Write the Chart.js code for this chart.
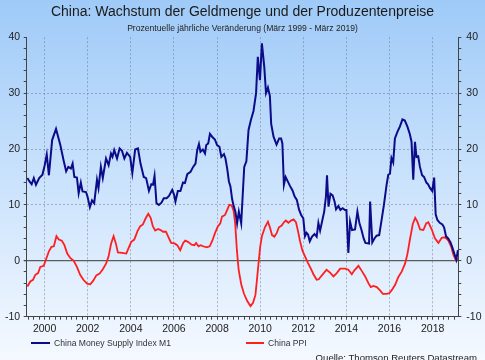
<!DOCTYPE html>
<html>
<head>
<meta charset="utf-8">
<script src="https://cdn.jsdelivr.net/npm/chart.js@4"></script>
<style>
  body { margin: 0; }
  #wrap {
    position: relative; width: 485px; height: 360px; overflow: hidden;
    background: linear-gradient(to bottom, #9fcaf8 0%, #c6e0fc 45%, #f5f9ff 100%);
    font-family: 'Liberation Sans', Arial, sans-serif; color: #333;
  }
  #chart { position: absolute; left: 0; top: 0; }
  .lg-line { position: absolute; height: 2px; top: 342px; }
  .lg-text { position: absolute; top: 338px; font-size: 8.6px; line-height: 10px; white-space: nowrap; }
  #source { position: absolute; right: 8px; top: 352px; font-size: 9.6px; line-height: 11px; white-space: nowrap; color: #222; }
</style>
</head>
<body>
<div id="wrap">
  <canvas id="chart" width="485" height="360"></canvas>
  <div class="lg-line" style="left:31px;width:19px;background:#0c0c8a"></div>
  <div class="lg-text" style="left:54px">China Money Supply Index M1</div>
  <div class="lg-line" style="left:246px;width:18px;background:#ff1f1f"></div>
  <div class="lg-text" style="left:268px">China PPI</div>
  <div id="source">Quelle: Thomson Reuters Datastream</div>
</div>
<script>
const m1Years = [1999.2, 1999.3, 1999.4, 1999.5, 1999.6, 1999.75, 1999.9, 2000.0, 2000.1, 2000.2, 2000.35, 2000.53, 2000.73, 2000.88,
  2001.0, 2001.1, 2001.22, 2001.3, 2001.38, 2001.5, 2001.58, 2001.68, 2001.76, 2001.92, 2001.99,
  2002.1, 2002.2, 2002.3, 2002.43, 2002.5, 2002.61, 2002.7, 2002.85, 2002.97,
  2003.08, 2003.15, 2003.23, 2003.36, 2003.48, 2003.59, 2003.7, 2003.82, 2003.97,
  2004.07, 2004.2, 2004.33, 2004.45, 2004.6, 2004.71, 2004.84, 2004.95,
  2005.03, 2005.1, 2005.19, 2005.3, 2005.42, 2005.53, 2005.66, 2005.77, 2005.92,
  2006.0, 2006.07, 2006.18, 2006.3, 2006.42, 2006.51, 2006.62, 2006.77, 2006.89,
  2007.0, 2007.08, 2007.16, 2007.23, 2007.34, 2007.44, 2007.5, 2007.59, 2007.67, 2007.77, 2007.9,
  2008.0, 2008.11, 2008.2, 2008.32, 2008.39, 2008.47, 2008.55, 2008.62, 2008.7, 2008.76, 2008.85, 2008.93,
  2009.01, 2009.12, 2009.2, 2009.26, 2009.36, 2009.46, 2009.57, 2009.69, 2009.81, 2009.89, 2009.99,
  2010.08, 2010.19, 2010.27, 2010.36, 2010.45, 2010.51, 2010.62, 2010.76, 2010.88, 2010.97,
  2011.03, 2011.1, 2011.18, 2011.28, 2011.38, 2011.5, 2011.6, 2011.7, 2011.8, 2011.9,
  2012.0, 2012.08, 2012.15, 2012.22, 2012.3, 2012.4, 2012.52, 2012.62, 2012.7, 2012.78, 2012.88, 2012.97,
  2013.05, 2013.1, 2013.17, 2013.26, 2013.36, 2013.45, 2013.52, 2013.63, 2013.72, 2013.83, 2013.93,
  2014.0, 2014.09, 2014.17, 2014.26, 2014.4, 2014.51, 2014.6, 2014.7, 2014.8, 2014.88,
  2015.05, 2015.1, 2015.2, 2015.3, 2015.4, 2015.52, 2015.62, 2015.74, 2015.86, 2015.94,
  2016.02, 2016.09, 2016.17, 2016.25, 2016.37, 2016.48, 2016.6, 2016.71, 2016.83, 2016.94,
  2017.02, 2017.1, 2017.18, 2017.25, 2017.33, 2017.41, 2017.51, 2017.6, 2017.71, 2017.79, 2017.88, 2017.98,
  2018.07, 2018.14, 2018.22, 2018.33, 2018.45, 2018.53, 2018.62, 2018.72, 2018.83, 2018.92,
  2019.03, 2019.1, 2019.17];
const m1Values = [14.8, 14.2, 13.7, 14.8, 13.6, 14.8, 15.4, 17.0, 19.0, 15.3, 21.6, 23.6, 20.7, 18.0,
  16.0, 16.8, 16.5, 17.4, 15.0, 14.9, 12.1, 14.0, 12.4, 12.3, 11.5,
  9.6, 10.8, 10.3, 14.5, 13.0, 16.8, 14.8, 18.3, 17.1,
  19.2, 18.6, 19.8, 18.3, 20.1, 19.7, 18.3, 19.3, 18.6,
  15.7, 19.9, 20.1, 17.4, 15.0, 14.8, 12.5, 13.7,
  13.6, 15.2, 10.3, 10.0, 10.4, 11.2, 11.2, 11.6, 12.7,
  11.9, 10.6, 12.5, 12.5, 14.0, 13.9, 15.5, 15.9, 16.8,
  17.4, 19.8, 20.9, 19.5, 19.9, 19.2, 20.7, 21.0, 22.7, 22.2, 21.7,
  20.7, 20.4, 18.6, 19.1, 18.3, 16.5, 14.2, 13.3, 11.0, 10.0, 8.8, 6.7,
  8.8, 6.7, 12.5, 16.8, 17.8, 23.4, 25.2, 26.8, 30.0, 36.5, 32.3,
  38.9, 34.7, 30.0, 31.0, 29.5, 24.5, 22.2, 20.8, 21.9, 21.9,
  21.0, 13.6, 15.0, 14.2, 13.4, 12.6, 11.5, 10.9, 9.2, 8.2,
  7.6, 4.4, 5.0, 4.7, 3.5, 4.3, 4.8, 4.3, 6.8, 5.4, 7.2, 8.8,
  11.5, 15.3, 9.7, 12.0, 11.7, 10.6, 9.2, 9.8, 9.1, 9.4, 9.1,
  9.1, 1.4, 7.0, 5.5, 5.6, 8.8, 6.8, 5.5, 4.0, 3.2,
  3.1, 10.6, 3.3, 4.0, 4.5, 4.6, 7.0, 10.0, 13.5, 15.4,
  15.6, 18.4, 17.6, 21.9, 23.1, 24.0, 25.3, 25.1, 24.0, 22.7,
  21.3, 14.5, 21.3, 18.6, 18.7, 16.8, 15.3, 15.0, 14.0, 13.7, 13.0, 12.5,
  14.9, 8.3, 7.3, 6.8, 6.5, 6.0, 4.4, 4.0, 3.3, 2.3,
  1.0, 0.2, 1.9];

const ppiYears = [1999.2, 1999.34, 1999.46, 1999.57, 1999.7, 1999.8, 1999.96, 2000.08, 2000.2, 2000.32, 2000.43, 2000.55, 2000.66, 2000.8, 2000.92,
  2001.05, 2001.19, 2001.35, 2001.5, 2001.65, 2001.8, 2001.97, 2002.12, 2002.25, 2002.4, 2002.55, 2002.7, 2002.85, 2002.97,
  2003.08, 2003.2, 2003.3, 2003.4, 2003.59, 2003.79, 2003.9, 2004.02, 2004.16, 2004.31, 2004.44, 2004.56, 2004.7, 2004.81, 2004.92,
  2005.02, 2005.13, 2005.27, 2005.38, 2005.5, 2005.63, 2005.75, 2005.87, 2006.03, 2006.15, 2006.29, 2006.43, 2006.52, 2006.65, 2006.82, 2006.95,
  2007.03, 2007.14, 2007.25, 2007.35, 2007.52, 2007.66, 2007.78, 2007.9, 2008.03, 2008.15, 2008.23, 2008.37, 2008.47, 2008.57, 2008.68, 2008.77, 2008.84, 2008.92,
  2009.0, 2009.12, 2009.25, 2009.4, 2009.55, 2009.67, 2009.78, 2009.85, 2009.92, 2010.0, 2010.08, 2010.22, 2010.36, 2010.45, 2010.55, 2010.66, 2010.77, 2010.87,
  2011.0, 2011.1, 2011.19, 2011.31, 2011.43, 2011.55, 2011.66, 2011.75, 2011.85, 2011.96, 2012.1, 2012.22, 2012.35, 2012.47, 2012.62, 2012.72, 2012.8, 2012.93,
  2013.08, 2013.24, 2013.4, 2013.55, 2013.71, 2013.94, 2014.09, 2014.25, 2014.37, 2014.56, 2014.71, 2014.87,
  2015.02, 2015.13, 2015.25, 2015.41, 2015.56, 2015.69, 2015.87, 2015.99, 2016.11, 2016.26, 2016.41, 2016.57, 2016.72, 2016.83, 2016.95,
  2017.08, 2017.19, 2017.29, 2017.42, 2017.57, 2017.7, 2017.8, 2017.96, 2018.11, 2018.27, 2018.42, 2018.58, 2018.73, 2018.86, 2018.96, 2019.08, 2019.17];
const ppiValues = [-4.6, -3.7, -3.4, -2.5, -2.2, -1.1, -0.9, 0.4, 1.7, 2.5, 2.6, 4.4, 3.8, 3.6, 2.8,
  1.3, 0.5, 0.0, -1.1, -2.5, -3.4, -4.1, -4.2, -3.6, -2.6, -2.3, -1.5, -0.5, 0.8,
  3.0, 4.4, 3.2, 1.5, 1.4, 1.3, 2.3, 3.4, 3.8, 5.3, 6.2, 6.5, 7.7, 8.4, 7.7,
  6.2, 5.4, 5.7, 5.5, 5.2, 5.2, 4.2, 3.2, 3.1, 2.8, 1.9, 3.2, 3.6, 3.4, 2.9, 2.8,
  3.2, 2.6, 2.8, 2.6, 2.4, 2.6, 3.6, 4.9, 6.1, 6.7, 7.9, 8.2, 9.1, 10.0, 9.9, 8.9, 6.7, 1.9,
  -1.6, -4.2, -5.9, -7.2, -8.1, -7.5, -6.1, -3.4, -0.6, 2.5, 4.4, 6.0, 7.0, 6.0, 4.6, 4.3, 5.0, 6.0,
  6.3, 6.9, 7.2, 6.8, 7.2, 7.4, 6.9, 5.4, 3.5, 1.8, 0.6, -0.4, -1.4, -2.4, -3.4, -3.3, -2.9, -2.3,
  -1.6, -2.1, -2.8, -2.2, -1.4, -1.4, -1.6, -2.4, -1.7, -0.9, -1.8, -2.8,
  -4.0, -4.7, -4.5, -4.7, -5.3, -5.9, -5.9, -5.8, -5.2, -4.3, -2.9, -1.9, -0.5, 1.2, 3.9,
  6.6, 7.7, 7.0, 5.6, 5.5, 6.7, 6.9, 5.6, 4.0, 3.2, 4.1, 4.2, 3.6, 2.5, 1.1, 0.1, 0.4];

const yMin = -10, yMax = 40;
const xMin = 1999.17, xMax = 2019.19;

function toPoints(xs, ys) {
  return xs.map((x, i) => ({ x: x, y: ys[i] }));
}

function isEvenYear(v) {
  const r = Math.round(v);
  return Math.abs(v - r) < 1e-6 && r % 2 === 0;
}

const gridGrey = 'rgba(105,115,135,0.5)';
const axisGrey = '#444';

Chart.defaults.font.family = "'Liberation Sans', Arial, sans-serif";
Chart.defaults.color = '#222';

new Chart(document.getElementById('chart'), {
  type: 'line',
  data: {
    datasets: [{
      label: 'China Money Supply Index M1',
      data: toPoints(m1Years, m1Values),
      borderColor: '#0c0c8a',
      borderWidth: 2,
      pointRadius: 0,
      tension: 0,
      yAxisID: 'y'
    }, {
      label: 'China PPI',
      data: toPoints(ppiYears, ppiValues),
      borderColor: '#ff1f1f',
      borderWidth: 1.8,
      pointRadius: 0,
      tension: 0,
      yAxisID: 'y'
    }]
  },
  options: {
    responsive: false,
    animation: false,
    devicePixelRatio: 1,
    layout: { padding: { left: 0, right: 0, top: 0, bottom: 26 } },
    plugins: {
      legend: { display: false },
      tooltip: { enabled: false },
      title: {
        display: true,
        text: 'China: Wachstum der Geldmenge und der Produzentenpreise',
        font: { size: 14, weight: 'normal' },
        color: '#1a1a1a',
        padding: { top: 3.6, bottom: 1.7 }
      },
      subtitle: {
        display: true,
        text: 'Prozentuelle jährliche Veränderung (März 1999 - März 2019)',
        font: { size: 8.6 },
        color: '#222',
        padding: { top: 1.7, bottom: 3.1 }
      }
    },
    scales: {
      x: {
        type: 'linear',
        min: xMin,
        max: xMax,
        afterFit: s => { s.height = 17.3; },
        ticks: {
          stepSize: 0.25,
          includeBounds: false,
          autoSkip: false,
          maxRotation: 0,
          padding: 3,
          font: { size: 10.5 },
          callback: v => isEvenYear(v) ? String(Math.round(v)) : ''
        },
        grid: {
          color: c => (c.tick && isEvenYear(c.tick.value)) ? gridGrey : 'rgba(0,0,0,0)',
          tickColor: axisGrey,
          tickLength: 3
        },
        border: {
          display: true, color: axisGrey, width: 1,
          dash: c => c.tick ? [2, 2] : []
        }
      },
      y: {
        position: 'left',
        min: yMin,
        max: yMax,
        afterFit: s => { s.width = 26.7; },
        ticks: {
          stepSize: 2,
          autoSkip: false,
          padding: 3.5,
          font: { size: 10.5 },
          callback: v => v % 10 === 0 ? String(v) : ''
        },
        grid: {
          color: c => {
            const v = c.tick ? c.tick.value : null;
            if (v === 0) return '#5c5c5c';
            if (v !== null && v % 10 === 0 && v !== yMin && v !== yMax) return gridGrey;
            return 'rgba(0,0,0,0)';
          },
          lineWidth: c => (c.tick && c.tick.value === 0) ? 1.3 : 1,
          tickColor: axisGrey,
          tickLength: 3
        },
        border: {
          display: true, color: axisGrey, width: 1,
          dash: c => (c.tick && c.tick.value !== 0) ? [2, 2] : []
        }
      },
      y2: {
        position: 'right',
        min: yMin,
        max: yMax,
        afterFit: s => { s.width = 26.7; },
        ticks: {
          stepSize: 2,
          autoSkip: false,
          padding: 5,
          font: { size: 10.5 },
          callback: v => v % 10 === 0 ? String(v) : ''
        },
        grid: {
          drawOnChartArea: false,
          tickColor: axisGrey,
          tickLength: 3
        },
        border: { display: true, color: axisGrey, width: 1 }
      }
    }
  }
});
</script>
</body>
</html>
